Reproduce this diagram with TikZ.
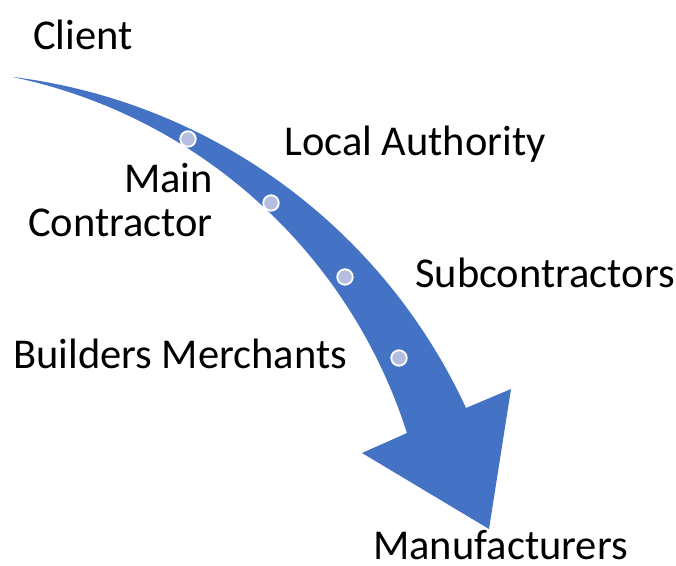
\documentclass[tikz,border=0pt]{standalone}
\usepackage{fontspec}
\setmainfont{Carlito}
\definecolor{arrowblue}{HTML}{4472C4}
\definecolor{dotfill}{HTML}{B4BEE0}
\begin{document}
\begin{tikzpicture}[x=1pt,y=-1pt,
  lbl/.style={inner sep=0pt, font=\fontsize{42.5}{46}\selectfont, text=black},
  stepdot/.style={circle, fill=dotfill, draw=white, line width=1.8pt, minimum size=15.5pt, inner sep=0pt}]
\useasboundingbox (0,0) rectangle (676,565);
% curved arrow: outer edge, head, inner edge
\fill[arrowblue]
  plot[domain=-82.88:-24.81, samples=80, variable=\t] ({-58.6+578*cos(\t)}, {650.5+578*sin(\t)})
  -- (511,389) -- (489,529) -- (362,453) -- (407,433)
  -- plot[domain=-17.66:-78.14, samples=80, variable=\t] ({-95.3+527.1*cos(\t)}, {592.9+527.1*sin(\t)})
  -- cycle;
% dots
\node[stepdot] (d1) at (188,139) {};
\node[stepdot] (d2) at (271,203) {};
\node[stepdot] (d3) at (345,277) {};
\node[stepdot] (d4) at (399,358) {};
% labels
\node[lbl, anchor=base west] (client) at (33,49) {Client};
\node[lbl, anchor=base west] (local) at (284,155) {Local Authority};
\node[lbl, anchor=base east] (main) at (213,192) {Main};
\node[lbl, anchor=base east] (contractor) at (213,236) {Contractor};
\node[lbl, anchor=base west] (sub) at (415,287) {Subcontractors};
\node[lbl, anchor=base west] (builders) at (13,368) {Builders Merchants};
\node[lbl, anchor=base west, text depth=0pt] (manu) at (373,559) {Manufacturers};
\end{tikzpicture}
\end{document}
